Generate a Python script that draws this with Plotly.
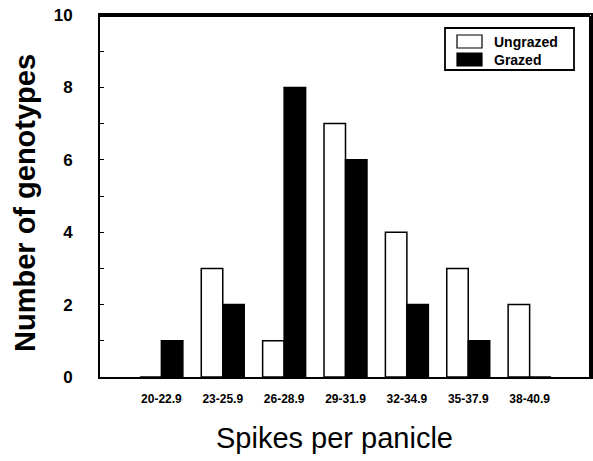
import plotly.graph_objects as go

categories = ["20-22.9", "23-25.9", "26-28.9", "29-31.9", "32-34.9", "35-37.9", "38-40.9"]
ungrazed = [0, 3, 1, 7, 4, 3, 2]
grazed = [1, 2, 8, 6, 2, 1, 0]
y_ticks = [0, 2, 4, 6, 8, 10]
series_names = ["Ungrazed", "Grazed"]

xpos = list(range(len(categories)))

PL, PR, PT, PB = 100, 591, 15, 377  # plot area in page px
W, H = 593, 461


def px(X):
    return (X - PL) / (PR - PL)


def py(Y):
    return (PB - Y) / (PB - PT)


fig = go.Figure()
fig.add_trace(go.Bar(x=xpos, y=ungrazed, name=series_names[0],
                     marker=dict(color="white", line=dict(color="black", width=1.5))))
fig.add_trace(go.Bar(x=xpos, y=grazed, name=series_names[1],
                     marker=dict(color="black", line=dict(color="black", width=1.5))))

shapes = [
    # frame edges (top and right), slightly inset
    dict(type="line", xref="paper", yref="paper", x0=0, x1=px(590), y0=py(16), y1=py(16),
         line=dict(color="black", width=2), layer="above"),
    dict(type="line", xref="paper", yref="paper", x0=px(590), x1=px(590), y0=0, y1=py(16),
         line=dict(color="black", width=2), layer="above"),
    # legend box
    dict(type="rect", xref="paper", yref="paper", x0=px(445), x1=px(574), y0=py(70), y1=py(28),
         line=dict(color="black", width=1.8), fillcolor="white"),
    dict(type="rect", xref="paper", yref="paper", x0=px(457), x1=px(482), y0=py(48), y1=py(35),
         line=dict(color="black", width=1.2), fillcolor="white"),
    dict(type="rect", xref="paper", yref="paper", x0=px(457), x1=px(482), y0=py(66), y1=py(53),
         line=dict(color="black", width=1.2), fillcolor="black"),
]
annotations = [
    dict(text=series_names[0], xref="paper", yref="paper", x=px(492), y=py(42), xanchor="left",
         yanchor="middle", showarrow=False, font=dict(size=14, weight="bold")),
    dict(text=series_names[1], xref="paper", yref="paper", x=px(492), y=py(60), xanchor="left",
         yanchor="middle", showarrow=False, font=dict(size=14, weight="bold")),
    dict(text="Spikes per panicle", xref="paper", yref="paper", x=px(334), y=py(438),
         xanchor="center", yanchor="middle", showarrow=False, font=dict(size=29)),
    dict(text="Number of genotypes", xref="paper", yref="paper", x=px(25), y=py(203),
         xanchor="center", yanchor="middle", showarrow=False, textangle=-90,
         font=dict(size=29, weight="bold")),
]

fig.update_layout(
    width=W, height=H,
    margin=dict(l=PL, r=W - PR, t=PT, b=H - PB, autoexpand=False),
    paper_bgcolor="white", plot_bgcolor="white",
    barmode="group", bargap=0.3, bargroupgap=0,
    font=dict(family="Liberation Sans, Arial, sans-serif", color="black"),
    showlegend=False, dragmode=False,
    shapes=shapes, annotations=annotations,
)
fig.update_xaxes(
    range=[-1, 7], tickmode="array", tickvals=xpos, ticktext=categories,
    showgrid=False, zeroline=False, showline=True, linecolor="black", linewidth=2,
    mirror=True, ticks="", ticklabelstandoff=10, ticklabeloverflow="allow",
    tickfont=dict(size=12, weight="bold"), fixedrange=True,
    automargin=False,
)
fig.update_yaxes(
    range=[0, 10], tickmode="array", tickvals=y_ticks,
    showgrid=False, zeroline=False, showline=True, linecolor="black", linewidth=2,
    mirror=True, ticks="inside", ticklen=4, tickwidth=1, tickcolor="black",
    minor=dict(dtick=1, ticks="inside", ticklen=4, tickwidth=1, tickcolor="black"),
    ticklabelstandoff=22, ticklabeloverflow="allow",
    tickfont=dict(size=17, weight="bold"), fixedrange=True,
    automargin=False,
)

fig.write_html("out.html", config={"staticPlot": True, "displayModeBar": False},
               post_script="document.body.style.margin='0';document.body.style.overflow='hidden';")
